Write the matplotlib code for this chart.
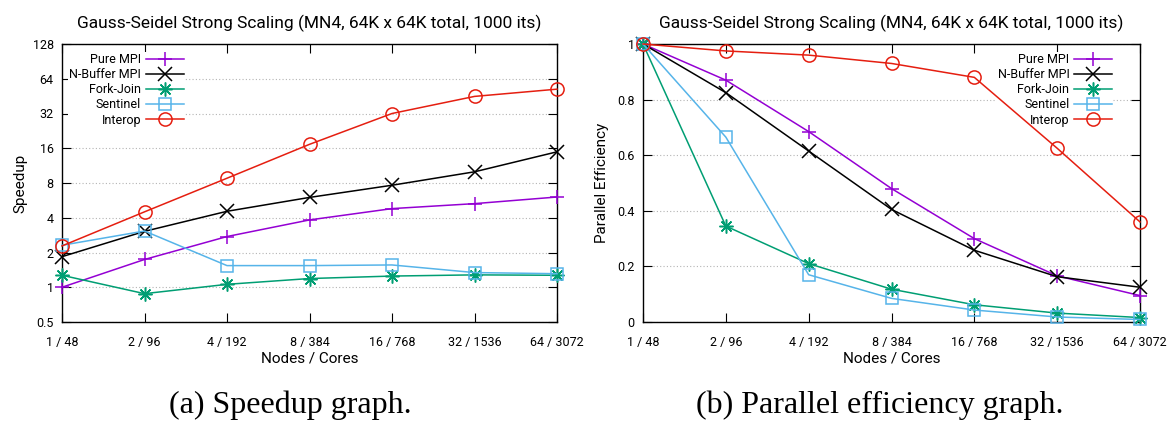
import numpy as np
import matplotlib
matplotlib.use("Agg")
import matplotlib.pyplot as plt
from matplotlib.ticker import FixedLocator, FixedFormatter

# x categories
nodes_cores = ["1 / 48", "2 / 96", "4 / 192", "8 / 384", "16 / 768", "32 / 1536", "64 / 3072"]

speedup_pure_mpi = [1.0, 1.74, 2.75, 3.83, 4.8, 5.3, 6.05]
speedup_nbuffer = [1.84, 3.05, 4.55, 6.0, 7.65, 10.0, 14.9]
speedup_forkjoin = [1.27, 0.88, 1.06, 1.19, 1.25, 1.28, 1.27]
speedup_sentinel = [2.31, 3.07, 1.54, 1.54, 1.56, 1.34, 1.31]
speedup_interop = [2.28, 4.5, 8.8, 17.3, 32.0, 45.0, 52.0]

eff_pure_mpi = [1.0, 0.87, 0.685, 0.48, 0.30, 0.166, 0.095]
eff_nbuffer = [1.0, 0.825, 0.615, 0.405, 0.258, 0.163, 0.125]
eff_forkjoin = [1.0, 0.345, 0.21, 0.118, 0.062, 0.032, 0.016]
eff_sentinel = [1.0, 0.665, 0.17, 0.085, 0.043, 0.018, 0.009]
eff_interop = [1.0, 0.975, 0.96, 0.93, 0.88, 0.625, 0.36]

series_names = ["Pure MPI", "N-Buffer MPI", "Fork-Join", "Sentinel", "Interop"]
speedups = [speedup_pure_mpi, speedup_nbuffer, speedup_forkjoin, speedup_sentinel, speedup_interop]
effs = [eff_pure_mpi, eff_nbuffer, eff_forkjoin, eff_sentinel, eff_interop]

speedup_ticks = [0.5, 1, 2, 4, 8, 16, 32, 64, 128]
speedup_ticklabels = ["0.5", "1", "2", "4", "8", "16", "32", "64", "128"]
eff_ticks = [0, 0.2, 0.4, 0.6, 0.8, 1.0]
eff_ticklabels = ["0", "0.2", "0.4", "0.6", "0.8", "1"]

title = "Gauss-Seidel Strong Scaling (MN4, 64K x 64K total, 1000 its)"

colors = ["#9400D3", "#000000", "#009E73", "#56B4E9", "#E51E10"]
markers = ["+", "x", (8, 2, 0), "s", "o"]
msizes = [10, 10, 10, 8.5, 9.5]

plt.rcParams['font.family'] = ['Roboto', 'DejaVu Sans']

W, H = 1172, 425
fig = plt.figure(figsize=(W / 100, H / 100), dpi=100)

def px_axes(x0, x1, y0, y1):
    return fig.add_axes([x0 / W, 1 - y1 / H, (x1 - x0) / W, (y1 - y0) / H])

ax1 = px_axes(62, 557, 44, 322)
ax2 = px_axes(643, 1140, 44, 322)

x = np.arange(len(nodes_cores))

def draw(ax, data):
    for name, vals, c, m, ms in zip(series_names, data, colors, markers, msizes):
        mfc = "none" if m in ("s", "o") else c
        ax.plot(x, vals, color=c, lw=1.1, marker=m, ms=ms, mew=1.1,
                mfc=mfc, label=name, clip_on=False, zorder=3)

def style(ax):
    ax.set_xlim(0, len(nodes_cores) - 1)
    ax.set_xticks(x)
    ax.set_xticklabels(nodes_cores)
    ax.tick_params(axis="both", which="major", direction="in", length=6.5, width=0.8,
                   top=True, right=True, labelsize=9)
    ax.tick_params(axis="x", pad=10)
    ax.tick_params(axis="y", pad=6)
    ax.tick_params(axis="both", which="minor", length=0)
    ax.grid(axis="y", color="#b4b4b4", lw=0.8, ls=(0, (1, 2)))
    ax.grid(axis="x", visible=False)
    ax.set_axisbelow(True)
    for s in ax.spines.values():
        s.set_linewidth(1.0)
    ax.set_xlabel("Nodes / Cores", fontsize=11, labelpad=2)
    ax.set_title(title, fontsize=12.5, pad=11.5)

draw(ax1, speedups)
ax1.set_yscale("log", base=2)
ax1.set_ylim(0.5, 128)
ax1.yaxis.set_major_locator(FixedLocator(speedup_ticks))
ax1.yaxis.set_major_formatter(FixedFormatter(speedup_ticklabels))
ax1.yaxis.set_minor_locator(FixedLocator([]))
style(ax1)
ax1.set_ylabel("Speedup", fontsize=11, labelpad=4)

draw(ax2, effs)
ax2.set_ylim(0, 1)
ax2.set_yticks(eff_ticks)
ax2.set_yticklabels(eff_ticklabels)
style(ax2)
ax2.set_ylabel("Parallel Efficiency", fontsize=11, labelpad=6)

leg_kw = dict(markerfirst=False, fontsize=9, handlelength=3.0, handletextpad=0.4,
              labelspacing=0.17, borderpad=0.1, borderaxespad=0, numpoints=1,
              frameon=True, fancybox=False, framealpha=1.0)
l1 = ax1.legend(loc="upper left", bbox_to_anchor=(0.012, 0.972), **leg_kw)
l2 = ax2.legend(loc="upper right", bbox_to_anchor=(0.946, 0.972), **leg_kw)
for lg in (l1, l2):
    lg.get_frame().set_edgecolor("none")
    lg.get_frame().set_facecolor("white")
    # above the grid, below the data lines (like the gnuplot key)
    lg.set_zorder(1)

cap_kw = dict(fontsize=23, family="Liberation Serif", ha="center", va="center")
fig.text(290 / W, 1 - 405 / H, "(a) Speedup graph.", **cap_kw)
fig.text(880 / W, 1 - 405 / H, "(b) Parallel efficiency graph.", **cap_kw)

fig.savefig("out.png", dpi=100)
